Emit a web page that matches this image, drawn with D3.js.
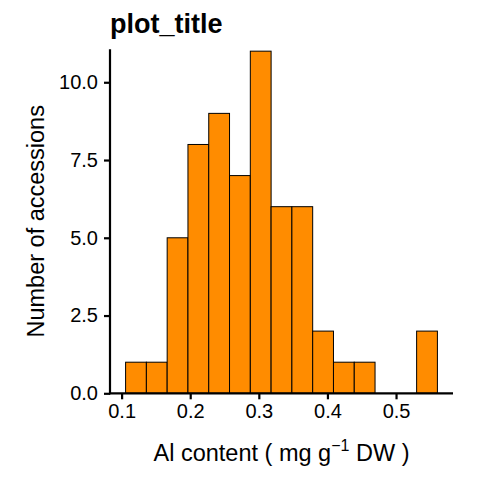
<!DOCTYPE html>
<html>
<head>
<meta charset="utf-8">
<script src="https://cdn.jsdelivr.net/npm/d3@7"></script>
<style>
  body { margin: 0; background: #fff; }
  text { font-family: "Liberation Sans", Arial, sans-serif; }
</style>
</head>
<body>
<div id="chart"></div>
<script>
// histogram bins
var binEdges = [0.1058, 0.1361, 0.1664, 0.1967, 0.2270, 0.2573, 0.2876, 0.3179,
                0.3482, 0.3785, 0.4088, 0.4391, 0.4694, 0.4997, 0.5300, 0.5603];
var counts = [1, 1, 5, 8, 9, 7, 11, 6, 6, 2, 1, 1, 0, 0, 2];
var xTicks = [0.1, 0.2, 0.3, 0.4, 0.5];
var yTicks = [0, 2.5, 5, 7.5, 10];

var W = 480, H = 480;
var pLeft = 110, pRight = 453, pTop = 49.3, pBottom = 393.3;

var svg = d3.select("#chart").append("svg")
    .attr("width", W).attr("height", H);

// x domain padded 5% each side like ggplot
var span = binEdges[binEdges.length - 1] - binEdges[0];
var x = d3.scaleLinear()
    .domain([binEdges[0] - span * 0.05, binEdges[binEdges.length - 1] + span * 0.05])
    .range([pLeft, pRight]);
var y = d3.scaleLinear()
    .domain([0, 11.06])
    .range([pBottom, pTop]);

var bins = counts.map(function (c, i) {
  return {x0: binEdges[i], x1: binEdges[i + 1], n: c};
});

svg.append("g").selectAll("rect")
    .data(bins.filter(function (d) { return d.n > 0; }))
    .enter().append("rect")
    .attr("x", function (d) { return x(d.x0); })
    .attr("width", function (d) { return x(d.x1) - x(d.x0); })
    .attr("y", function (d) { return y(d.n); })
    .attr("height", function (d) { return y(0) - y(d.n); })
    .attr("fill", "#FF8C00")
    .attr("stroke", "#000")
    .attr("stroke-width", 1);

// axes
var xAxis = svg.append("g")
    .attr("transform", "translate(0," + pBottom + ")")
    .call(d3.axisBottom(x).tickValues(xTicks).tickFormat(d3.format(".1f"))
      .tickSize(6).tickPadding(5));
var yAxis = svg.append("g")
    .attr("transform", "translate(" + pLeft + ",0)")
    .call(d3.axisLeft(y).tickValues(yTicks).tickFormat(d3.format(".1f"))
      .tickSize(6).tickPadding(6));

[xAxis, yAxis].forEach(function (g) {
  g.select(".domain").attr("stroke", "#000").attr("stroke-width", 2.2);
  g.selectAll(".tick line").attr("stroke", "#000").attr("stroke-width", 2.2);
  g.selectAll(".tick text").attr("fill", "#000")
    .style("font-size", "20px").style("font-family", "'Liberation Sans', Arial, sans-serif");
});
xAxis.select(".domain").attr("d", "M" + (pLeft - 1) + ",0H" + pRight);
yAxis.select(".domain").attr("d", "M0," + pTop + "V" + (pBottom + 1));

// titles
svg.append("text")
    .attr("x", 110).attr("y", 33)
    .style("font-size", "27px").style("font-weight", "bold")
    .text("plot_title");

var xt = svg.append("text")
    .attr("x", (pLeft + pRight) / 2).attr("y", 461)
    .attr("text-anchor", "middle")
    .style("font-size", "23.5px");
xt.append("tspan").text("Al content ( mg g");
xt.append("tspan").attr("dy", -10).style("font-size", "16px").text("\u22121");
xt.append("tspan").attr("dy", 10).text(" DW )");

svg.append("text")
    .attr("transform", "translate(44," + ((pTop + pBottom) / 2) + ") rotate(-90)")
    .attr("text-anchor", "middle")
    .style("font-size", "23.5px")
    .text("Number of accessions");
</script>
</body>
</html>
